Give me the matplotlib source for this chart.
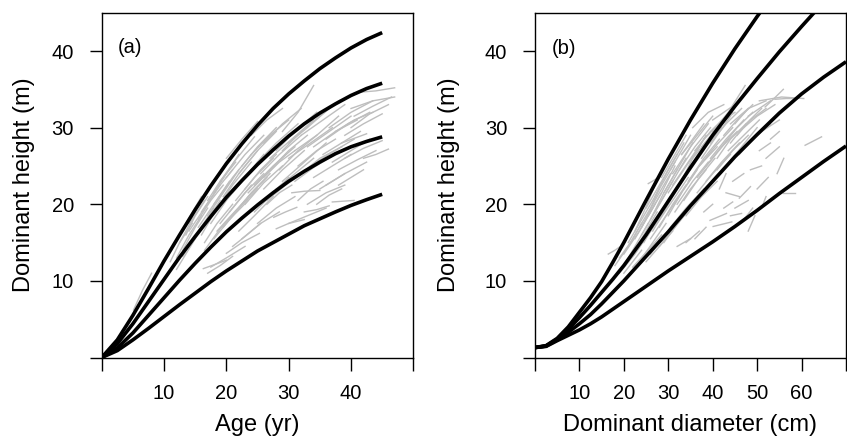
import numpy as np
import matplotlib
matplotlib.use("Agg")
import matplotlib.pyplot as plt

plt.rcParams['font.family'] = ['Liberation Sans', 'DejaVu Sans']

# (a) site curves over age
age = [0, 2.5, 5, 7.5, 10, 12.5, 15, 17.5, 20, 22.5, 25, 27.5, 30, 32.5, 35, 37.5, 40, 42.5, 45]
h_age_1 = [0, 2.3, 5.5, 9.0, 12.6, 16.0, 19.3, 22.4, 25.3, 27.9, 30.3, 32.5, 34.4, 36.1, 37.7, 39.1, 40.4, 41.5, 42.4]
h_age_2 = [0, 1.8, 4.4, 7.3, 10.2, 13.1, 15.8, 18.4, 20.9, 23.1, 25.2, 27.1, 28.9, 30.5, 31.9, 33.1, 34.2, 35.1, 35.8]
h_age_3 = [0, 1.25, 3.2, 5.5, 7.8, 10.1, 12.3, 14.4, 16.4, 18.2, 19.9, 21.5, 23.0, 24.3, 25.5, 26.6, 27.5, 28.2, 28.8]
h_age_4 = [0, 0.9, 2.3, 3.8, 5.35, 6.9, 8.4, 9.9, 11.3, 12.6, 13.9, 15.0, 16.1, 17.2, 18.1, 19.0, 19.85, 20.6, 21.3]

# (b) site curves over dominant diameter
diam = [0, 2.5, 5, 7.5, 10, 12.5, 15, 17.5, 20, 25, 30, 35, 40, 45, 50, 55, 60, 65, 70]
h_d_1 = [1.3, 1.55, 2.5, 4.0, 5.9, 7.8, 9.9, 12.4, 15.0, 20.5, 25.9, 31.0, 35.8, 40.3, 44.5, 48.5]
h_d_2 = [1.3, 1.5, 2.4, 3.7, 5.2, 6.8, 8.5, 10.2, 12.0, 16.0, 20.4, 24.8, 29.0, 32.8, 36.4, 39.9, 43.2, 46.4]
h_d_3 = [1.3, 1.5, 2.3, 3.3, 4.4, 5.6, 7.0, 8.5, 10.0, 13.2, 16.4, 19.8, 23.0, 26.2, 29.1, 31.9, 34.4, 36.6, 38.6]
h_d_4 = [1.3, 1.45, 2.2, 2.9, 3.6, 4.4, 5.3, 6.3, 7.3, 9.3, 11.3, 13.2, 15.1, 17.1, 19.2, 21.4, 23.5, 25.6, 27.6]

# observed plots (a): age, height
obs_age = [
    [5.1, 6.5, 8.0], [11.5, 13.5, 16.0], [12.0, 14.0, 16.0], [13.0, 15.5, 18.0],
    [14.0, 16.0, 18.0], [15.0, 17.5, 20.0], [16.0, 18.0, 20.5], [16.5, 19.0, 22.0],
    [17.0, 19.5, 22.0], [17.5, 20.0, 23.0], [16.3, 18.0, 20.0], [20.0, 22.5, 25.3],
    [18.0, 21.0, 24.0], [19.0, 21.5, 24.5], [20.0, 22.5, 25.0], [19.5, 22.0, 25.0],
    [21.0, 24.0, 27.0], [21.0, 23.5, 26.0], [22.0, 25.0, 28.0], [22.5, 25.5, 28.5],
    [23.0, 26.0, 29.0], [24.0, 27.0, 30.0], [24.5, 27.5, 31.0], [25.0, 28.0, 31.0],
    [25.5, 28.5, 32.0], [26.0, 29.0, 32.0], [26.5, 29.5, 33.0], [27.0, 30.5, 34.0],
    [27.6, 29.5, 31.3], [28.0, 31.0, 34.0], [29.0, 31.5, 34.0], [28.5, 31.5, 34.5],
    [30.0, 33.0, 36.0], [30.5, 32.5, 35.0], [30.0, 33.5, 37.0], [31.0, 34.0, 37.0],
    [32.0, 35.5, 39.0], [33.0, 36.0, 39.0], [33.5, 37.0, 40.5], [34.0, 37.5, 41.0],
    [35.0, 38.0, 42.0], [37.0, 38.7, 40.5], [36.0, 39.0, 42.5], [36.0, 39.5, 43.0],
    [38.0, 41.0, 44.0], [39.0, 42.0, 45.0], [40.0, 43.0, 46.0], [41.0, 44.0, 47.0],
    [40.0, 43.5, 47.0], [42.0, 44.0, 46.0], [38.5, 40.5, 42.5], [34.5, 36.5, 38.5],
    [14.5, 16.5, 19.0], [18.5, 20.5, 23.0], [15.5, 17.5, 19.5], [20.5, 23.0, 26.0],
    [23.0, 25.5, 28.0], [26.0, 28.5, 31.0], [29.0, 32.0, 35.0], [31.5, 34.5, 37.5],
    [18.0, 20.0, 22.0], [13.5, 15.0, 17.0], [24.0, 26.5, 29.0], [35.5, 38.5, 41.5],
    [37.5, 40.5, 43.5], [28.0, 30.0, 32.5], [32.5, 34.5, 36.5], [21.0, 23.0, 25.5],
    [12.5, 14.5, 16.5], [13.0, 15.0, 17.0], [14.0, 16.5, 19.0], [15.0, 17.0, 19.0],
    [15.5, 18.0, 20.5], [16.0, 18.5, 21.0], [16.5, 18.5, 21.0], [17.0, 19.0, 21.5],
    [17.5, 20.0, 22.5], [18.0, 20.5, 23.5], [18.5, 21.0, 24.0], [19.0, 21.5, 24.0],
    [19.5, 22.0, 25.0], [20.0, 23.0, 26.0], [20.5, 23.5, 26.5], [21.5, 24.5, 27.5],
    [22.0, 24.5, 27.5], [22.5, 25.0, 28.0], [23.5, 26.5, 29.5], [24.5, 27.0, 30.0],
    [25.0, 28.0, 31.5], [26.0, 29.0, 32.5], [27.0, 30.0, 33.0], [28.0, 31.0, 34.5],
    [29.0, 32.5, 36.0], [30.0, 33.0, 36.5], [31.0, 34.5, 38.0], [32.0, 35.0, 38.5],
    [33.0, 36.5, 40.0], [34.0, 37.0, 40.0], [36.5, 40.0, 43.5], [37.0, 40.0, 43.0],
    [39.0, 42.0, 45.0], [40.5, 43.5, 46.5], [11.0, 12.5, 14.5], [12.0, 13.5, 15.0],
    [17.0, 19.0, 21.0], [26.5, 28.5, 30.5], [31.5, 33.5, 35.5], [35.0, 37.0, 39.0],
    [38.0, 40.0, 42.0], [18.0, 20.5, 23.5],
]
obs_h_age = [
    [6.2, 8.7, 11.0], [14.5, 17.5, 21.0], [13.0, 16.0, 18.5], [13.2, 16.5, 19.5],
    [17.5, 20.5, 23.0], [19.5, 22.5, 25.5], [16.0, 18.8, 21.5], [14.0, 16.8, 19.5],
    [18.5, 21.5, 24.5], [11.8, 13.0, 14.5], [11.6, 12.1, 12.7], [13.6, 15.0, 16.2],
    [20.0, 23.5, 26.5], [23.0, 25.8, 28.8], [26.0, 28.5, 30.8], [17.0, 19.5, 22.0],
    [18.5, 21.5, 24.0], [21.5, 24.0, 26.5], [24.0, 27.0, 29.5], [15.5, 17.5, 19.0],
    [20.0, 22.8, 25.0], [26.5, 29.0, 31.0], [22.5, 25.0, 27.5], [17.5, 19.5, 21.0],
    [24.0, 26.5, 29.0], [28.0, 30.5, 32.5], [20.5, 22.5, 24.5], [26.0, 28.5, 31.0],
    [18.3, 19.0, 19.6], [22.0, 24.0, 26.0], [29.5, 32.0, 35.5], [24.5, 27.0, 29.0],
    [17.5, 18.5, 19.5], [21.5, 21.7, 21.8], [26.0, 28.0, 30.0], [23.0, 24.8, 26.3],
    [29.0, 31.0, 33.0], [20.0, 21.5, 22.5], [25.0, 26.8, 28.5], [27.5, 29.5, 31.0],
    [31.5, 33.5, 34.8], [20.3, 20.4, 20.5], [22.5, 24.0, 25.5], [28.5, 30.5, 32.0],
    [24.5, 25.8, 27.0], [26.0, 27.3, 28.3], [30.0, 31.8, 33.0], [34.6, 34.8, 35.2],
    [32.5, 33.5, 34.0], [26.0, 26.5, 27.2], [28.0, 28.6, 29.2], [20.0, 21.2, 22.0],
    [15.0, 17.5, 20.0], [16.5, 18.3, 20.5], [18.0, 20.5, 22.5], [19.0, 21.5, 24.0],
    [22.0, 24.5, 26.5], [23.5, 25.5, 27.0], [27.0, 29.5, 31.5], [25.0, 27.0, 28.5],
    [21.5, 24.0, 26.5], [16.0, 18.5, 21.0], [29.0, 31.0, 32.5], [26.5, 28.0, 29.5],
    [29.5, 31.0, 32.0], [16.8, 17.5, 18.0], [19.0, 19.3, 19.8], [14.5, 15.8, 17.5],
    [15.0, 18.0, 20.5], [14.0, 17.0, 19.5], [16.5, 19.5, 22.5], [15.5, 18.0, 20.5],
    [17.0, 20.0, 23.0], [19.0, 22.0, 24.5], [15.0, 17.5, 20.0], [20.5, 23.0, 25.5],
    [17.5, 20.5, 23.0], [15.5, 18.0, 20.5], [19.5, 22.5, 25.5], [17.5, 20.0, 22.5],
    [21.0, 24.0, 27.0], [23.5, 26.5, 29.0], [18.0, 21.0, 23.5], [20.5, 23.5, 26.0],
    [16.5, 18.5, 21.0], [25.0, 27.5, 30.0], [21.5, 24.0, 26.5], [19.0, 21.0, 23.5],
    [25.5, 28.0, 30.5], [22.0, 24.5, 27.0], [24.5, 27.0, 29.0], [27.0, 29.5, 32.0],
    [23.0, 25.5, 28.0], [28.0, 30.0, 32.5], [27.0, 29.0, 31.5], [24.0, 26.0, 27.5],
    [27.5, 29.5, 31.5], [23.5, 25.0, 26.5], [30.0, 32.0, 33.5], [25.5, 27.0, 28.5],
    [29.0, 30.5, 31.8], [31.5, 32.8, 34.0], [12.5, 15.0, 17.5], [11.5, 13.5, 15.5],
    [11.0, 12.0, 13.2], [20.0, 21.5, 22.5], [20.5, 22.0, 23.0], [22.0, 23.0, 24.0],
    [22.5, 23.5, 24.5], [23.0, 26.0, 29.0],
]

# observed plots (b): diameter, height
obs_d = [
    [16.5, 18.0, 19.5], [18.0, 21.0, 24.0], [19.0, 22.5, 26.0], [20.0, 23.5, 27.0],
    [21.0, 24.0, 27.5], [22.0, 25.0, 28.5], [22.5, 24.5, 27.0], [23.0, 26.0, 29.0],
    [24.0, 27.0, 30.5], [25.0, 28.0, 31.0], [25.5, 26.7, 27.8], [25.0, 28.5, 32.0],
    [26.0, 29.5, 33.0], [27.0, 30.0, 33.5], [27.5, 31.0, 34.5], [28.0, 31.5, 35.0],
    [28.5, 31.5, 34.0], [29.0, 32.5, 36.0], [30.0, 33.5, 37.0], [30.5, 34.0, 38.0],
    [31.0, 35.0, 39.0], [32.0, 35.5, 39.0], [33.0, 36.5, 40.0], [33.5, 37.0, 41.0],
    [34.0, 37.5, 41.0], [35.0, 38.5, 42.0], [36.0, 39.5, 43.0], [36.5, 40.0, 44.0],
    [37.0, 40.5, 44.5], [38.0, 41.5, 45.0], [38.5, 42.0, 46.0], [39.5, 43.0, 47.0],
    [40.0, 43.5, 47.3], [41.0, 44.5, 48.0], [42.0, 45.5, 49.0], [43.0, 46.5, 50.0],
    [44.0, 47.5, 51.0], [45.0, 48.0, 52.0], [46.0, 49.0, 53.0], [50.5, 55.5, 60.5],
    [51.8, 53.8, 55.9], [54.0, 56.5, 58.9], [47.0, 50.0, 54.0], [35.5, 39.0, 42.5],
    [26.0, 29.0, 32.0], [24.5, 27.5, 30.5], [29.5, 33.0, 36.5], [32.5, 35.5, 38.5],
    [37.5, 41.0, 44.0], [48.0, 51.0, 55.0],
    [19.0, 21.5, 24.0], [20.5, 23.0, 25.5], [21.5, 24.5, 27.5], [22.5, 25.5, 28.5],
    [23.5, 26.5, 29.5], [24.0, 27.5, 31.0], [25.5, 28.5, 31.5], [26.5, 29.5, 32.5],
    [27.0, 30.5, 34.0], [28.0, 31.0, 34.0], [29.0, 32.0, 35.5], [30.0, 33.0, 36.5],
    [31.0, 34.5, 38.0], [31.5, 35.0, 38.5], [32.5, 36.0, 39.5], [33.5, 37.0, 40.5],
    [34.5, 38.0, 41.5], [35.5, 39.0, 42.5], [36.5, 40.0, 43.5], [37.5, 41.0, 44.5],
    [38.5, 42.0, 45.5], [39.5, 43.0, 46.5], [41.0, 44.0, 47.5], [42.5, 45.5, 49.0],
    [43.5, 47.0, 50.5], [45.5, 48.5, 52.0], [24.0, 26.0, 28.0], [27.5, 29.5, 31.5],
    [30.5, 32.5, 35.0], [33.0, 35.5, 38.0], [20.0, 22.0, 24.0], [26.0, 28.0, 30.0],
    [29.0, 31.5, 34.0], [40.0, 42.5, 45.0], [44.0, 46.0, 48.0], [48.0, 50.5, 53.0],
    [60.8, 64.5], [55.9, 58.6], [40.1, 44.3], [39.4, 43.1], [45.0, 48.0], [47.0, 49.0],
    [50.0, 52.5], [48.5, 51.0], [52.0, 55.0], [53.0, 55.0], [43.0, 46.0], [44.5, 47.0],
    [42.5, 44.5], [46.0, 48.5], [50.5, 53.0], [36.0, 38.5], [34.0, 37.0], [41.5, 43.0],
    [48.0, 49.5], [44.0, 46.5], [54.5, 56.0], [51.0, 52.0], [38.0, 40.0], [32.0, 35.0],
]
obs_h_d = [
    [13.5, 14.0, 14.6], [12.0, 14.5, 17.5], [11.0, 13.5, 16.5], [13.5, 16.5, 20.0],
    [15.0, 18.0, 21.5], [11.8, 13.7, 16.0], [16.5, 19.0, 22.5], [14.0, 16.5, 19.0],
    [17.0, 20.5, 24.0], [12.5, 14.5, 16.5], [22.7, 23.1, 23.5], [19.5, 23.0, 26.5],
    [15.5, 18.5, 21.5], [21.0, 24.5, 28.0], [17.5, 20.5, 23.5], [14.5, 17.0, 19.5],
    [23.5, 26.5, 29.0], [19.5, 22.5, 25.5], [21.5, 24.5, 27.5], [17.0, 19.5, 22.0],
    [24.0, 27.5, 30.5], [20.0, 23.0, 25.5], [26.5, 29.0, 31.5], [22.0, 25.0, 27.5],
    [18.5, 21.0, 23.0], [24.5, 27.5, 30.0], [27.0, 29.5, 31.5], [21.5, 24.0, 26.5],
    [25.0, 27.5, 30.0], [28.5, 30.5, 32.0], [23.0, 25.5, 28.0], [26.0, 28.5, 31.0],
    [29.5, 32.0, 35.5], [24.5, 27.0, 29.0], [27.5, 30.0, 32.0], [25.0, 27.5, 30.0],
    [28.0, 30.5, 32.5], [30.5, 32.5, 33.5], [26.5, 28.5, 30.5], [33.5, 34.0, 33.8],
    [32.7, 33.8, 35.0], [33.7, 33.8, 33.8], [30.0, 31.5, 33.0], [30.0, 32.0, 33.0],
    [18.0, 21.5, 24.5], [15.0, 18.0, 21.0], [16.0, 18.5, 21.0], [22.5, 26.0, 29.0],
    [26.0, 29.0, 31.5], [28.0, 29.5, 31.0],
    [13.0, 15.0, 17.5], [12.5, 15.0, 17.5], [13.0, 16.0, 19.0], [15.5, 18.5, 21.5],
    [12.5, 15.0, 17.5], [16.0, 19.5, 23.0], [18.5, 21.5, 25.0], [16.5, 19.5, 22.5],
    [19.0, 22.5, 26.0], [17.0, 20.0, 22.5], [21.5, 24.5, 28.0], [18.5, 21.5, 24.5],
    [22.5, 25.5, 28.5], [19.0, 22.0, 24.5], [24.5, 27.5, 30.0], [20.5, 23.5, 26.0],
    [23.0, 26.0, 28.5], [26.0, 28.5, 31.0], [23.5, 26.0, 28.5], [27.5, 30.0, 32.0],
    [25.0, 27.5, 29.5], [28.0, 30.5, 32.5], [26.0, 28.5, 30.5], [29.0, 31.0, 33.0],
    [27.0, 29.0, 31.0], [29.0, 31.0, 32.5], [17.5, 19.5, 22.0], [21.5, 23.5, 25.5],
    [24.5, 26.5, 29.0], [26.5, 28.5, 30.5], [11.0, 12.5, 14.0], [13.5, 15.0, 16.5],
    [15.0, 17.0, 19.0], [31.0, 32.0, 33.0], [30.5, 31.5, 32.5], [31.5, 32.5, 33.5],
    [27.7, 28.8], [21.5, 21.5], [17.1, 17.7], [17.9, 18.8], [19.5, 20.5], [18.0, 19.5],
    [22.0, 23.5], [24.5, 25.0], [26.0, 27.5], [28.5, 29.5], [21.5, 21.0], [23.0, 24.0],
    [19.5, 20.3], [20.8, 22.3], [27.0, 28.0], [15.5, 17.0], [15.0, 16.5], [22.0, 24.0],
    [16.5, 18.5], [18.5, 18.8], [24.0, 26.0], [19.5, 21.0], [19.0, 20.0], [14.5, 15.5],
]

fig = plt.figure(figsize=(8.47, 4.37), dpi=100)
ax1 = fig.add_axes([0.1201, 0.1819, 0.3679, 0.789])
ax2 = fig.add_axes([0.6316, 0.1819, 0.3672, 0.789])

grey = '#bebebe'
for a, h in zip(obs_age, obs_h_age):
    ax1.plot(a, h, color=grey, lw=1.0)
for h in [h_age_1, h_age_2, h_age_3, h_age_4]:
    ax1.plot(age, h, color='black', lw=2.6, solid_capstyle='butt')

for d, h in zip(obs_d, obs_h_d):
    ax2.plot(d, h, color=grey, lw=1.0)
for h in [h_d_1, h_d_2, h_d_3, h_d_4]:
    ax2.plot(diam[:len(h)], h, color='black', lw=2.6, solid_capstyle='butt')

ax1.set_xlim(0, 50)
ax2.set_xlim(0, 70)
ax1.set_xticks([0, 10, 20, 30, 40, 50])
ax1.set_xticklabels(['', '10', '20', '30', '40', ''])
ax2.set_xticks([0, 10, 20, 30, 40, 50, 60, 70])
ax2.set_xticklabels(['', '10', '20', '30', '40', '50', '60', ''])

for ax in (ax1, ax2):
    ax.set_ylim(0, 45)
    ax.set_yticks([0, 10, 20, 30, 40])
    ax.set_yticklabels(['', '10', '20', '30', '40'])
    ax.tick_params(direction='out', length=9, width=1.0, labelsize=14.5)
    ax.tick_params(axis='x', pad=10)
    ax.tick_params(axis='y', pad=11)
    for s in ax.spines.values():
        s.set_linewidth(1.0)
    ax.set_ylabel('Dominant height (m)', fontsize=17)

ax1.set_xlabel('Age (yr)', fontsize=17)
ax2.set_xlabel('Dominant diameter (cm)', fontsize=17)
ax1.xaxis.set_label_coords(0.5, -0.164)
ax2.xaxis.set_label_coords(0.5, -0.164)
ax1.yaxis.set_label_coords(-0.214, 0.5)
ax2.yaxis.set_label_coords(-0.241, 0.5)

ax1.text(0.052, 0.90, '(a)', transform=ax1.transAxes, fontsize=14.5, ha='left', va='center')
ax2.text(0.054, 0.896, '(b)', transform=ax2.transAxes, fontsize=14.5, ha='left', va='center')

fig.savefig('out.png', dpi=100)
